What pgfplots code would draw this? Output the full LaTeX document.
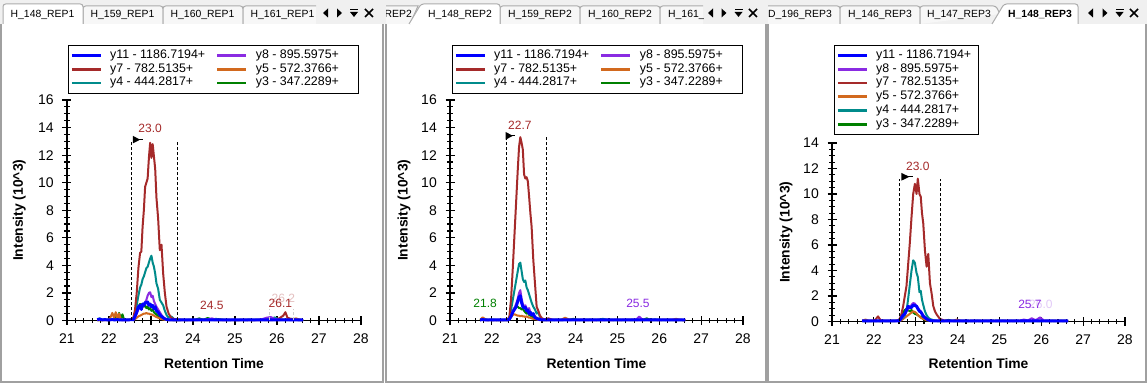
\documentclass[border=0pt]{standalone}
\usepackage{fontspec}
\setmainfont{Liberation Sans}
\usepackage{pgfplots}
\usepackage{pgfplotstable}
\pgfplotsset{compat=1.18}

\definecolor{cb}{RGB}{0,0,255}
\definecolor{cp}{RGB}{138,43,226}
\definecolor{cr}{RGB}{165,42,42}
\definecolor{co}{RGB}{210,105,30}
\definecolor{ct}{RGB}{0,139,139}
\definecolor{cg}{RGB}{0,128,0}
\definecolor{tabbg}{RGB}{240,240,240}
\definecolor{tabin}{RGB}{247,247,247}
\definecolor{tabbd}{RGB}{172,172,172}
\definecolor{frm}{RGB}{160,160,160}

% x b(y11) p(y8) r(y7) o(y5) t(y4) g(y3)
\pgfplotstableread{
x b p r o t g
21.72 0.06 0.03 0.02 0.02 0.10 0.02
21.78 0.10 0.04 0.03 0.05 0.15 0.03
21.84 0.05 0.03 0.02 0.03 0.05 0.02
21.90 0.06 0.02 0.03 0.06 0.10 0.04
21.96 0.05 0.03 0.04 0.04 0.05 0.03
22.02 0.05 0.03 0.05 0.12 0.06 0.05
22.08 0.06 0.04 0.05 0.55 0.07 0.08
22.12 0.05 0.03 0.04 0.20 0.05 0.05
22.16 0.05 0.05 0.06 0.60 0.08 0.35
22.20 0.06 0.04 0.05 0.15 0.06 0.10
22.24 0.05 0.03 0.05 0.50 0.05 0.55
22.28 0.05 0.04 0.04 0.10 0.05 0.15
22.32 0.05 0.03 0.03 0.06 0.05 0.45
22.36 0.04 0.03 0.04 0.05 0.04 0.05
22.42 0.05 0.03 0.03 0.04 0.04 0.04
22.48 0.05 0.03 0.05 0.05 0.05 0.05
22.54 0.06 0.05 0.08 0.05 0.08 0.05
22.58 0.05 0.05 0.20 0.03 0.10 0.05
22.62 0.30 0.20 0.80 0.10 0.50 0.30
22.66 0.60 0.50 2.00 0.20 1.10 0.70
22.70 1.00 0.80 3.80 0.30 1.80 1.00
22.74 1.10 1.00 4.90 0.35 2.40 1.20
22.77 0.80 1.10 5.00 0.40 2.60 1.10
22.80 1.20 1.00 6.80 0.45 3.00 1.20
22.83 1.10 1.20 8.00 0.50 3.20 1.00
22.86 1.30 1.30 9.70 0.50 3.50 1.10
22.89 1.25 1.50 10.00 0.55 3.80 0.90
22.92 1.35 1.80 10.30 0.50 3.90 1.00
22.95 1.10 2.00 11.80 0.50 4.20 0.80
22.98 1.20 2.05 12.90 0.45 4.50 0.90
23.01 1.00 1.70 11.80 0.45 4.70 0.70
23.04 1.10 1.80 12.80 0.40 4.20 0.80
23.07 0.85 1.40 11.90 0.35 3.90 0.60
23.10 1.00 1.20 11.00 0.30 3.40 0.50
23.13 0.70 1.00 8.90 0.25 2.70 0.45
23.17 0.60 0.80 7.40 0.20 2.30 0.30
23.21 0.40 0.60 5.10 0.15 1.50 0.20
23.25 0.30 0.40 5.50 0.10 1.30 0.15
23.29 0.20 0.25 3.40 0.08 1.10 0.10
23.33 0.12 0.15 2.00 0.05 0.70 0.08
23.37 0.08 0.10 1.00 0.04 0.40 0.05
23.42 0.05 0.05 0.50 0.03 0.20 0.05
23.48 0.05 0.05 0.20 0.03 0.30 0.04
23.55 0.05 0.03 0.10 0.03 0.10 0.03
23.65 0.04 0.03 0.06 0.03 0.05 0.03
23.75 0.05 0.04 0.05 0.02 0.05 0.04
23.85 0.04 0.03 0.04 0.03 0.04 0.03
23.95 0.05 0.03 0.04 0.03 0.05 0.05
24.05 0.05 0.04 0.05 0.03 0.04 0.06
24.15 0.04 0.05 0.04 0.04 0.05 0.15
24.25 0.05 0.04 0.05 0.03 0.06 0.05
24.35 0.05 0.08 0.04 0.03 0.05 0.18
24.45 0.04 0.15 0.05 0.04 0.06 0.06
24.55 0.05 0.05 0.04 0.03 0.12 0.05
24.65 0.05 0.04 0.05 0.03 0.05 0.08
24.75 0.04 0.03 0.04 0.03 0.04 0.04
24.85 0.05 0.03 0.05 0.04 0.05 0.03
24.95 0.05 0.04 0.04 0.03 0.04 0.04
25.05 0.04 0.03 0.05 0.03 0.05 0.03
25.15 0.05 0.04 0.04 0.03 0.04 0.04
25.25 0.05 0.03 0.05 0.04 0.05 0.03
25.35 0.04 0.04 0.04 0.03 0.06 0.04
25.45 0.05 0.03 0.05 0.03 0.04 0.03
25.55 0.05 0.04 0.04 0.03 0.05 0.05
25.65 0.04 0.10 0.05 0.04 0.05 0.04
25.75 0.05 0.20 0.04 0.03 0.08 0.12
25.85 0.05 0.25 0.05 0.03 0.15 0.05
25.95 0.04 0.10 0.06 0.04 0.22 0.06
26.05 0.05 0.06 0.15 0.03 0.08 0.05
26.15 0.05 0.05 0.35 0.05 0.05 0.04
26.20 0.05 0.04 0.60 0.04 0.06 0.05
26.25 0.04 0.04 0.20 0.06 0.05 0.04
26.35 0.05 0.03 0.10 0.05 0.12 0.05
26.45 0.05 0.04 0.05 0.15 0.05 0.04
26.55 0.04 0.03 0.04 0.05 0.04 0.03
26.62 0.05 0.03 0.03 0.03 0.03 0.03
}\tA

\pgfplotstableread{
x b p r o t g
21.72 0.05 0.03 0.03 0.05 0.04 0.03
21.78 0.06 0.04 0.05 0.22 0.05 0.15
21.84 0.05 0.03 0.04 0.10 0.06 0.08
21.90 0.05 0.03 0.03 0.04 0.04 0.03
21.96 0.04 0.04 0.04 0.03 0.05 0.04
22.02 0.05 0.03 0.03 0.04 0.06 0.03
22.08 0.05 0.03 0.04 0.03 0.05 0.04
22.14 0.04 0.04 0.03 0.04 0.04 0.03
22.20 0.05 0.03 0.04 0.03 0.05 0.04
22.26 0.05 0.03 0.03 0.04 0.04 0.03
22.32 0.04 0.04 0.04 0.03 0.05 0.03
22.38 0.05 0.03 0.05 0.03 0.05 0.03
22.42 0.10 0.10 0.30 0.10 0.20 0.10
22.46 0.30 0.40 1.60 0.25 0.80 0.40
22.50 0.60 0.70 3.80 0.40 1.50 0.70
22.54 0.80 0.90 6.20 0.45 2.20 0.90
22.58 1.00 1.20 8.60 0.40 2.90 1.00
22.62 1.40 1.60 11.00 0.35 3.60 1.00
22.65 1.70 2.00 12.60 0.35 4.10 0.90
22.68 1.80 2.20 13.30 0.30 4.20 0.90
22.71 1.30 1.60 12.90 0.35 3.60 0.80
22.74 1.00 1.20 12.40 0.30 3.00 0.90
22.77 0.90 1.00 10.60 0.30 2.80 0.70
22.80 0.95 1.10 10.30 0.25 2.90 0.60
22.83 0.70 0.90 10.40 0.30 2.40 0.50
22.86 0.75 0.80 10.10 0.25 2.20 0.60
22.89 0.50 0.90 9.00 0.20 1.90 0.40
22.92 0.60 0.60 7.80 0.20 1.60 0.35
22.95 0.40 0.50 6.80 0.15 1.30 0.30
22.99 0.50 0.45 4.40 0.12 1.00 0.20
23.03 0.20 0.30 2.70 0.10 0.80 0.15
23.07 0.15 0.20 1.00 0.08 0.50 0.10
23.11 0.10 0.15 0.70 0.05 0.60 0.08
23.15 0.06 0.10 0.35 0.04 0.25 0.05
23.20 0.05 0.05 0.15 0.03 0.10 0.04
23.26 0.05 0.04 0.08 0.03 0.05 0.03
23.35 0.05 0.03 0.15 0.03 0.05 0.04
23.45 0.04 0.04 0.05 0.04 0.04 0.03
23.55 0.05 0.03 0.04 0.05 0.05 0.04
23.65 0.05 0.03 0.05 0.04 0.04 0.03
23.75 0.04 0.04 0.04 0.20 0.05 0.04
23.85 0.05 0.03 0.05 0.06 0.04 0.05
23.95 0.05 0.04 0.04 0.04 0.05 0.12
24.05 0.04 0.03 0.05 0.03 0.04 0.04
24.15 0.05 0.04 0.04 0.04 0.05 0.03
24.25 0.05 0.03 0.05 0.03 0.04 0.04
24.35 0.04 0.04 0.04 0.04 0.06 0.03
24.45 0.05 0.03 0.05 0.03 0.04 0.04
24.55 0.05 0.04 0.04 0.04 0.05 0.03
24.65 0.04 0.03 0.05 0.03 0.12 0.04
24.75 0.05 0.04 0.04 0.04 0.05 0.03
24.85 0.05 0.03 0.05 0.03 0.04 0.04
24.95 0.04 0.04 0.04 0.04 0.05 0.03
25.05 0.05 0.03 0.05 0.03 0.04 0.04
25.15 0.05 0.04 0.04 0.04 0.05 0.03
25.25 0.04 0.05 0.05 0.03 0.04 0.04
25.35 0.05 0.04 0.04 0.04 0.06 0.03
25.45 0.05 0.08 0.05 0.03 0.04 0.04
25.52 0.05 0.28 0.04 0.04 0.05 0.05
25.60 0.04 0.06 0.05 0.03 0.05 0.04
25.70 0.05 0.04 0.04 0.04 0.04 0.15
25.80 0.05 0.05 0.05 0.03 0.05 0.04
25.90 0.04 0.04 0.04 0.04 0.08 0.03
26.00 0.05 0.03 0.05 0.03 0.04 0.04
26.10 0.05 0.04 0.04 0.04 0.05 0.03
26.20 0.04 0.03 0.05 0.05 0.04 0.04
26.30 0.05 0.04 0.04 0.04 0.05 0.03
26.40 0.05 0.03 0.05 0.12 0.04 0.04
26.50 0.04 0.04 0.04 0.04 0.05 0.03
26.62 0.05 0.03 0.03 0.03 0.04 0.03
}\tB

\pgfplotstableread{
x b p r o t g
21.72 0.06 0.03 0.04 0.05 0.04 0.03
21.80 0.05 0.04 0.05 0.15 0.05 0.04
21.88 0.05 0.03 0.04 0.05 0.04 0.03
21.96 0.04 0.04 0.05 0.04 0.05 0.04
22.04 0.05 0.03 0.15 0.04 0.04 0.03
22.10 0.05 0.04 0.40 0.05 0.05 0.04
22.16 0.04 0.03 0.10 0.04 0.04 0.03
22.24 0.05 0.04 0.05 0.05 0.05 0.04
22.32 0.05 0.03 0.04 0.04 0.04 0.03
22.40 0.04 0.04 0.05 0.05 0.05 0.04
22.48 0.05 0.03 0.04 0.04 0.04 0.03
22.54 0.05 0.04 0.06 0.05 0.05 0.05
22.58 0.05 0.05 0.10 0.04 0.05 0.05
22.62 0.10 0.10 0.20 0.06 0.10 0.15
22.66 0.30 0.20 0.60 0.10 0.20 0.40
22.70 0.50 0.40 1.20 0.20 0.30 0.70
22.74 0.60 0.60 2.00 0.30 0.50 0.90
22.78 0.90 0.80 2.80 0.40 0.80 1.00
22.82 1.20 1.00 4.50 0.50 1.80 0.90
22.86 1.10 1.10 6.20 0.60 2.90 0.80
22.90 1.10 1.30 8.20 0.70 4.00 0.90
22.94 1.30 1.45 10.00 0.80 4.80 0.70
22.98 1.25 1.40 10.80 0.75 4.60 0.60
23.02 1.20 1.20 10.00 0.65 3.80 0.55
23.05 1.00 1.10 11.20 0.50 3.50 0.50
23.09 0.80 0.90 10.00 0.40 2.30 0.40
23.12 0.75 0.80 9.80 0.30 2.40 0.35
23.15 0.60 0.60 8.50 0.25 1.70 0.30
23.18 0.40 0.50 7.70 0.20 1.30 0.20
23.22 0.30 0.35 5.60 0.15 0.80 0.15
23.26 0.20 0.25 4.30 0.10 0.50 0.10
23.30 0.12 0.15 5.30 0.08 0.30 0.08
23.34 0.08 0.10 3.00 0.06 0.20 0.06
23.38 0.06 0.06 2.20 0.05 0.15 0.05
23.42 0.05 0.05 1.20 0.04 0.10 0.04
23.46 0.05 0.04 0.80 0.04 0.08 0.04
23.50 0.05 0.04 0.55 0.04 0.06 0.04
23.58 0.05 0.04 0.20 0.04 0.05 0.03
23.68 0.04 0.03 0.08 0.04 0.04 0.03
23.78 0.05 0.04 0.05 0.05 0.05 0.12
23.88 0.05 0.03 0.04 0.04 0.04 0.04
23.98 0.04 0.04 0.05 0.15 0.05 0.03
24.08 0.05 0.03 0.04 0.05 0.04 0.04
24.18 0.05 0.04 0.05 0.04 0.05 0.03
24.28 0.04 0.03 0.04 0.05 0.04 0.04
24.38 0.05 0.04 0.05 0.04 0.05 0.03
24.48 0.05 0.03 0.04 0.05 0.04 0.04
24.58 0.04 0.04 0.05 0.04 0.05 0.03
24.68 0.05 0.03 0.04 0.05 0.04 0.04
24.78 0.05 0.04 0.05 0.04 0.05 0.03
24.88 0.04 0.03 0.04 0.05 0.04 0.04
24.98 0.05 0.04 0.05 0.04 0.05 0.03
25.08 0.05 0.03 0.04 0.05 0.04 0.04
25.18 0.04 0.04 0.05 0.04 0.05 0.03
25.28 0.05 0.03 0.04 0.05 0.04 0.04
25.38 0.05 0.04 0.05 0.04 0.05 0.03
25.48 0.04 0.05 0.04 0.05 0.04 0.04
25.58 0.05 0.15 0.05 0.04 0.05 0.03
25.68 0.05 0.08 0.04 0.05 0.04 0.04
25.77 0.04 0.25 0.05 0.04 0.05 0.03
25.87 0.05 0.10 0.04 0.05 0.04 0.04
25.97 0.05 0.32 0.05 0.04 0.06 0.03
26.07 0.04 0.06 0.04 0.05 0.04 0.04
26.17 0.05 0.04 0.05 0.04 0.05 0.03
26.27 0.05 0.03 0.04 0.05 0.04 0.04
26.37 0.04 0.04 0.05 0.04 0.05 0.03
26.47 0.05 0.03 0.04 0.05 0.04 0.04
26.57 0.05 0.04 0.05 0.04 0.05 0.03
26.64 0.04 0.03 0.04 0.04 0.04 0.03
}\tC

\pgfplotsset{
  chrom/.style={
    scale only axis,
    axis lines=left,
    axis line style={-, black, line width=1.1pt},
    xmin=21, xmax=28, xtick={21,22,...,28}, minor x tick num=4,
    ymin=0, minor y tick num=3,
    tick align=center,
    major tick length=6.75pt, minor tick length=4pt,
    tick style={black, line width=0.9pt},
    tick label style={font=\fontsize{10.5}{12}\selectfont},
    /pgf/number format/assume math mode=true,
    xticklabel style={yshift=-3pt},
    yticklabel style={xshift=-3pt},
    xlabel={Retention Time}, ylabel={Intensity (10\textasciicircum 3)},
    label style={font=\fontsize{10.4}{12}\selectfont\bfseries},
    clip=false,
    legend style={draw=black, line width=0.75pt, fill=white, anchor=north west,
      inner xsep=1.5pt, inner ysep=2.4pt, font=\fontsize{9.3}{11}\selectfont,
      cells={anchor=west}, nodes={inner sep=0pt, text height=7.3pt, text depth=3pt}},
    legend image code/.code={\draw[##1] (0pt,0pt) -- (21.75pt,0pt);},
  }
}

\newcommand{\chromplots}[1]{%
  \addplot[cg, line width=1.5pt, line join=round, forget plot] table[x=x,y=g]{#1};
  \addplot[co, line width=1.5pt, line join=round, forget plot] table[x=x,y=o]{#1};
  \addplot[ct, line width=1.5pt, line join=round, forget plot] table[x=x,y=t]{#1};
  \addplot[cr, line width=1.5pt, line join=round, forget plot] table[x=x,y=r]{#1};
  \addplot[cp, line width=1.5pt, line join=round, forget plot] table[x=x,y=p]{#1};
  \addplot[cb, line width=2.2pt, line join=round, forget plot] table[x=x,y=b]{#1};
}
\newcommand{\legA}{%
  \addlegendimage{cb, line width=2pt}\addlegendentry{\makebox[85.5pt][l]{\hspace{6pt}y11 - 1186.7194+}}
  \addlegendimage{cp, line width=2pt}\addlegendentry{\makebox[81.75pt][l]{\hspace{6pt}y8 - 895.5975+}}
  \addlegendimage{cr, line width=2pt}\addlegendentry{\makebox[85.5pt][l]{\hspace{6pt}y7 - 782.5135+}}
  \addlegendimage{co, line width=2pt}\addlegendentry{\makebox[81.75pt][l]{\hspace{6pt}y5 - 572.3766+}}
  \addlegendimage{ct, line width=2pt}\addlegendentry{\makebox[85.5pt][l]{\hspace{6pt}y4 - 444.2817+}}
  \addlegendimage{cg, line width=2pt}\addlegendentry{\makebox[81.75pt][l]{\hspace{6pt}y3 - 347.2289+}}
}
\newcommand{\legC}{%
  \addlegendimage{cb, line width=2pt}\addlegendentry{\makebox[81pt][l]{\hspace{6pt}y11 - 1186.7194+}}
  \addlegendimage{cp, line width=2pt}\addlegendentry{\makebox[81pt][l]{\hspace{6pt}y8 - 895.5975+}}
  \addlegendimage{cr, line width=2pt}\addlegendentry{\makebox[81pt][l]{\hspace{6pt}y7 - 782.5135+}}
  \addlegendimage{co, line width=2pt}\addlegendentry{\makebox[81pt][l]{\hspace{6pt}y5 - 572.3766+}}
  \addlegendimage{ct, line width=2pt}\addlegendentry{\makebox[81pt][l]{\hspace{6pt}y4 - 444.2817+}}
  \addlegendimage{cg, line width=2pt}\addlegendentry{\makebox[81pt][l]{\hspace{6pt}y3 - 347.2289+}}
}

\newcommand{\tabfont}{\fontsize{7.8}{9}\selectfont}
\newcommand{\tab}[4]{% x1 x2 center label (inactive)
  \draw[fill=tabin, draw=tabbd, line width=0.75pt, rounded corners=2] (#1,360) -- (#1,378) -- (#2,378) -- (#2,360);
  \node[font=\tabfont, inner sep=0pt] at (#3,369.5) {#4};
}
\newcommand{\icons}[4]{%
  \fill (#1+2.5,366.5) -- (#1+2.5,375.5) -- (#1-2.5,371) -- cycle;
  \fill (#2-2.5,366.5) -- (#2-2.5,375.5) -- (#2+2.5,371) -- cycle;
  \fill (#3-4,372) -- (#3+4,372) -- (#3,367) -- cycle;
  \fill (#3-4,373.5) rectangle (#3+4,375);
  \draw[line width=1.2pt] (#4-4,367) -- (#4+4,375) (#4-4,375) -- (#4+4,367);
}

\begin{document}
\begin{tikzpicture}
\begin{scope}[x=0.75pt,y=0.75pt]
\useasboundingbox (0,0) rectangle (1147,384);
\fill[white] (0,0) rectangle (1147,384);
\fill[tabbg] (0,360) rectangle (1147,384);
% panel 1 tabs
\tab{83}{163}{122.5}{H\_159\_REP1}
\tab{163}{243}{202.5}{H\_160\_REP1}
\begin{scope}
\clip (240,355) rectangle (316,384);
\tab{243}{330}{282.5}{H\_161\_REP1}
\end{scope}
\draw[fill=white, draw=tabbd, line width=0.75pt, rounded corners=2] (3,360) -- (3,380) -- (83,380) -- (83,360);
\node[font=\tabfont, inner sep=0pt] at (42.5,369.5) {H\_148\_REP1};
\icons{325.5}{339.5}{354}{369}
% panel 2 tabs
\begin{scope}
\clip (386,355) rectangle (420,384);
\draw[fill=tabin, draw=tabbd, line width=0.75pt] (370,360) -- (370,378) -- (418,378) -- (410,360);
\node[font=\tabfont, inner sep=0pt] at (380,369.5) {H\_160\_REP2};
\end{scope}
\tab{500}{580}{540}{H\_159\_REP2}
\tab{580}{660}{620}{H\_160\_REP2}
\begin{scope}
\clip (655,355) rectangle (703,384);
\tab{660}{740}{700}{H\_161\_REP2}
\end{scope}
\draw[fill=white, draw=tabbd, line width=0.75pt, rounded corners=2] (409,360) -- (421,380) -- (500,380) -- (500,360);
\node[font=\tabfont, inner sep=0pt] at (460,369.5) {H\_148\_REP2};
\icons{710.5}{724}{738.5}{753}
% panel 3 tabs
\begin{scope}
\clip (768,355) rectangle (845,384);
\tab{740}{840}{800}{D\_196\_REP3}
\end{scope}
\tab{840}{920}{880}{H\_146\_REP3}
\draw[fill=tabin, draw=tabbd, line width=0.75pt, rounded corners=2] (920,360) -- (920,378) -- (996,378) -- (1000,370);
\node[font=\tabfont, inner sep=0pt] at (959,369.5) {H\_147\_REP3};
\draw[fill=white, draw=tabbd, line width=0.75pt, rounded corners=2] (992,360) -- (1004,380) -- (1078,380) -- (1078,360);
\node[font=\tabfont\bfseries, inner sep=0pt] at (1040,369.5) {H\_148\_REP3};
\icons{1090.5}{1105}{1119.5}{1134}
% frames
\draw[frm, line width=1.1pt] (0.8,360) -- (0.8,2) -- (383.2,2) -- (383.2,360);
\draw[frm, line width=1.1pt] (385.8,360) -- (385.8,2) -- (766.2,2) -- (766.2,360);
\draw[frm, line width=1.1pt] (768.2,360) -- (768.2,2) -- (1146.2,2) -- (1146.2,360);
\end{scope}

% ---------- panel 1 ----------
\begin{axis}[chrom, at={(50.25pt,47.625pt)}, anchor=south west,
  width=220.5pt, height=165.375pt, ymax=16, ytick={0,2,...,16},
  xlabel style={at={(axis description cs:0.5,-0.193)}, anchor=center},
  ylabel style={at={(axis description cs:-0.162,0.5)}, anchor=center},
  legend columns=2,
  legend style={at={(axis description cs:0.0034,1.249)}}]
\legA
\chromplots{\tA}
\addplot[black, line width=0.8pt, dash pattern=on 2.25pt off 1.5pt, forget plot] coordinates {(22.54,0) (22.54,12.97)};
\addplot[black, line width=0.8pt, dash pattern=on 2.25pt off 1.5pt, forget plot] coordinates {(23.63,0) (23.63,12.97)};
\addplot[gray!40, line width=0.6pt, dash pattern=on 2.25pt off 1.5pt, forget plot] coordinates {(25.83,0) (25.83,0.87)};
\addplot[gray!40, line width=0.6pt, dash pattern=on 2.25pt off 1.5pt, forget plot] coordinates {(26.40,0) (26.40,0.87)};
\fill[black] (axis cs:22.57,13.4) -- (axis cs:22.57,12.85) -- (axis cs:22.74,13.12) -- cycle;
\draw[black, line width=0.8pt] (axis cs:22.7,13.12) -- (axis cs:22.8,13.12);
\node[text=cr, font=\fontsize{9}{10}\selectfont] at (axis cs:22.98,13.96) {23.0};
\node[text=cr, font=\fontsize{9}{10}\selectfont] at (axis cs:24.45,1.09) {24.5};
\node[text=cr!30, font=\fontsize{9}{10}\selectfont] at (axis cs:26.15,1.64) {26.2};
\node[text=cr, font=\fontsize{9}{10}\selectfont] at (axis cs:26.08,1.24) {26.1};
\end{axis}

% ---------- panel 2 ----------
\begin{axis}[chrom, at={(337.5pt,47.625pt)}, anchor=south west,
  width=219.75pt, height=165.375pt, ymax=16, ytick={0,2,...,16},
  xlabel style={at={(axis description cs:0.5,-0.193)}, anchor=center},
  ylabel style={at={(axis description cs:-0.157,0.5)}, anchor=center},
  legend columns=2,
  legend style={at={(axis description cs:0.0068,1.249)}}]
\legA
\chromplots{\tB}
\addplot[black, line width=0.8pt, dash pattern=on 2.25pt off 1.5pt, forget plot] coordinates {(22.34,0) (22.34,13.33)};
\addplot[black, line width=0.8pt, dash pattern=on 2.25pt off 1.5pt, forget plot] coordinates {(23.31,0) (23.31,13.33)};
\fill[black] (axis cs:22.33,13.68) -- (axis cs:22.33,13.12) -- (axis cs:22.50,13.4) -- cycle;
\draw[black, line width=0.8pt] (axis cs:22.45,13.4) -- (axis cs:22.55,13.4);
\node[text=cr, font=\fontsize{9}{10}\selectfont] at (axis cs:22.67,14.18) {22.7};
\node[text=cg, font=\fontsize{9}{10}\selectfont] at (axis cs:21.84,1.24) {21.8};
\node[text=cp, font=\fontsize{9}{10}\selectfont] at (axis cs:25.49,1.24) {25.5};
\end{axis}

% ---------- panel 3 ----------
\begin{axis}[chrom, at={(624pt,46.875pt)}, anchor=south west,
  width=219.75pt, height=133.875pt, ymax=14, ytick={0,2,...,14},
  xlabel style={at={(axis description cs:0.5,-0.238)}, anchor=center},
  ylabel style={at={(axis description cs:-0.157,0.5)}, anchor=center},
  legend columns=1,
  legend style={at={(axis description cs:0.0068,1.549)}}]
\legC
\chromplots{\tC}
\addplot[black, line width=0.8pt, dash pattern=on 2.25pt off 1.5pt, forget plot] coordinates {(22.61,0) (22.61,11.18)};
\addplot[black, line width=0.8pt, dash pattern=on 2.25pt off 1.5pt, forget plot] coordinates {(23.60,0) (23.60,11.18)};
\fill[black] (axis cs:22.66,11.65) -- (axis cs:22.66,11.05) -- (axis cs:22.85,11.35) -- cycle;
\draw[black, line width=0.8pt] (axis cs:22.8,11.35) -- (axis cs:22.93,11.35);
\node[text=cr, font=\fontsize{9}{10}\selectfont] at (axis cs:23.05,12.2) {23.0};
\node[text=cp!25, font=\fontsize{9}{10}\selectfont] at (axis cs:25.99,1.37) {26.0};
\node[text=cp, font=\fontsize{9}{10}\selectfont] at (axis cs:25.73,1.37) {25.7};
\end{axis}
\end{tikzpicture}
\end{document}
